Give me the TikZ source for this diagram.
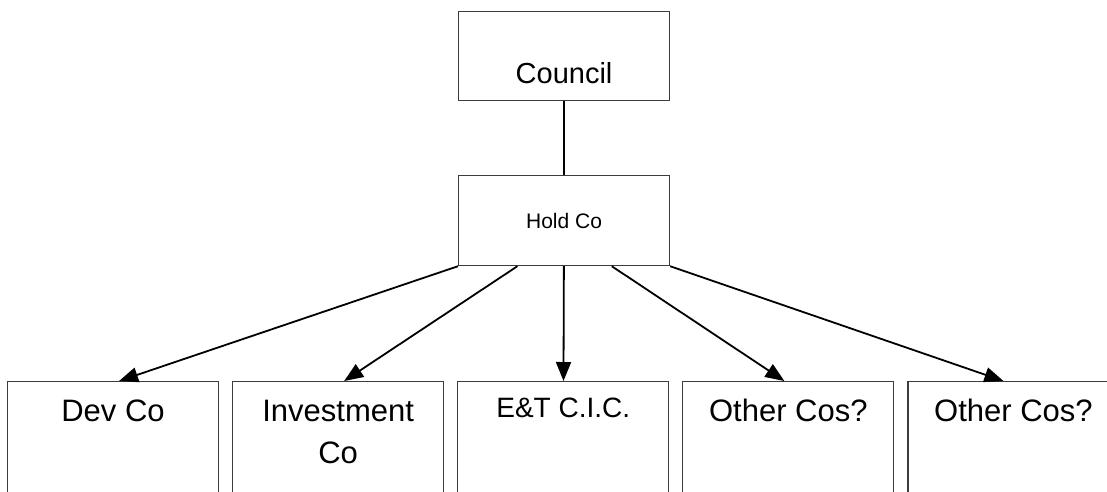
\documentclass[tikz,border=0pt]{standalone}
\usepackage{fontspec}
\setmainfont{Liberation Sans}
\usetikzlibrary{arrows.meta,positioning,calc}
\definecolor{edge}{HTML}{3C3C3C}
\tikzset{
  unitbox/.style={
    draw=edge,fill=white,line width=1.1pt,inner sep=0pt,
    minimum width=211pt
  },
  councilbox/.style={
    unitbox,minimum height=89pt,text height=72pt,text depth=17pt,
    font=\fontsize{29}{35}\selectfont
  },
  holdbox/.style={
    unitbox,minimum height=90pt,font=\fontsize{21}{25}\selectfont
  },
  cobox/.style={
    unitbox,minimum height=130pt,text height=40pt,text depth=90pt,
    font=\fontsize{31}{42}\selectfont
  },
  link/.style={draw=black,line width=1.8pt},
  arrow/.style={-{Triangle[length=19pt,width=15pt]},draw=black,line width=1.8pt}
}
\begin{document}
\begin{tikzpicture}[x=1pt,y=-1pt,node distance=13pt]
\useasboundingbox (0,0) rectangle (1107,491);
\clip (0,0) rectangle (1107,491);

\node[councilbox,anchor=north west] (council) at (458,11) {Council};
\node[holdbox,below=74pt of council] (hold) {Hold Co};

\node[cobox,anchor=north west] (dev) at (7,381) {Dev Co};
\node[cobox,right=of dev,align=center,text height=82pt,text depth=48pt] (invest)
{Investment\\Co};
\node[cobox,right=of invest,text height=36pt,text depth=94pt,
  font=\fontsize{28}{34}\selectfont] (etcic) {E\&T C.I.C.};
\node[cobox,right=of etcic] (other) {Other Cos?};
\node[cobox,right=of other] (another) {Other Cos?};

\draw[link] (council)--(hold);
\draw[arrow] (hold.south west)--([xshift=6pt]dev.north);
\draw[arrow] ($(hold.south west)!0.28!(hold.south east)$)--([xshift=6pt]invest.north);
\draw[arrow] (hold)--(etcic);
\draw[arrow] ($(hold.south west)!0.725!(hold.south east)$)--([xshift=-4pt]other.north);
\draw[arrow] (hold.south east)--([xshift=-10pt]another.north);
\end{tikzpicture}
\end{document}
